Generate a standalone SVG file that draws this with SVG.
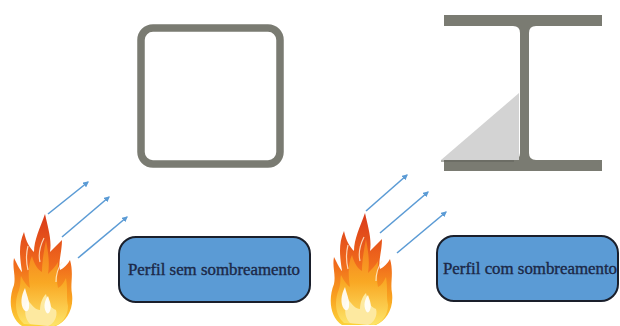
<svg xmlns="http://www.w3.org/2000/svg" width="620" height="326" viewBox="0 0 620 326">
  <style>
    .steel { fill: none; stroke: #7a7b72; stroke-width: 7.5; }
    .beam { fill: #7a7b72; }
    .shade { fill: #d3d3d3; }
    .ray { stroke: #5b9bd5; stroke-width: 1.6; fill: none; marker-end: url(#head); }
    .box { fill: #5b9bd5; stroke: #1a1f2b; stroke-width: 2; }
    .label { font-size: 16px; fill: #1b2847; stroke: #1b2847; stroke-width: 0.35; text-anchor: middle; }
  </style>
  <defs>
    <marker id="head" viewBox="0 0 10 10" refX="8" refY="5" markerWidth="6" markerHeight="6" orient="auto" markerUnits="userSpaceOnUse">
      <path d="M0,0 L10,5 L0,10 Z" fill="#5b9bd5"/>
    </marker>
    <linearGradient id="fireOuter" x1="0" y1="0" x2="0" y2="1">
      <stop offset="0" stop-color="#d9391a"/>
      <stop offset="0.45" stop-color="#f06a1c"/>
      <stop offset="0.75" stop-color="#f9a21f"/>
      <stop offset="1" stop-color="#fcd23a"/>
    </linearGradient>
    <linearGradient id="fireInner" x1="0" y1="0" x2="0" y2="1">
      <stop offset="0" stop-color="#f47a1e"/>
      <stop offset="0.5" stop-color="#f9a824"/>
      <stop offset="1" stop-color="#fde56a"/>
    </linearGradient>
    <g id="flame">
      <path fill="url(#fireOuter)" d="M22,126 C10,118 8,100 14,85 C16,75 12,68 14,58 C18,66 20,70 22,72 C20,58 18,45 24,32 C26,42 30,48 34,52 C34,40 40,28 45,14 C48,28 52,40 50,52 C54,48 58,44 62,40 C62,52 58,62 60,70 C64,68 68,64 70,60 C74,74 70,84 72,94 C74,110 66,122 56,126 Z"/>
      <path fill="url(#fireInner)" d="M24,124 C15,116 14,102 19,90 C21,84 20,80 21,76 C24,82 27,86 30,88 C28,76 28,64 32,56 C34,64 38,70 42,72 C42,62 44,50 46,40 C48,52 50,62 48,74 C52,70 56,66 58,62 C58,72 56,80 58,88 C62,86 64,82 66,78 C68,90 66,98 68,106 C68,116 62,124 54,126 Z"/>
      <path fill="#fde9a0" d="M30,124 C24,118 24,108 28,100 C32,106 36,110 40,110 C40,104 42,98 46,94 C48,102 50,108 56,110 C58,116 54,124 48,126 Z"/>
      <path fill="#ffffff" opacity="0.9" d="M24,110 C20,104 21,96 25,88 C27,96 30,102 29,108 C28,112 26,112 24,110 Z"/>
      <path fill="#ffffff" opacity="0.9" d="M46,112 C43,106 45,100 48,96 C50,102 52,106 50,111 C49,114 47,114 46,112 Z"/>
      <path fill="none" stroke="#fff3dc" stroke-width="1.2" opacity="0.8" d="M40,62 C38,54 40,46 44,38 M28,70 C26,62 26,54 28,46 M56,82 C56,74 58,68 62,62"/>
    </g>
  </defs>

  <!-- hollow square section -->
  <g id="square-tube">
    <rect class="steel" x="141" y="28" width="139" height="136" rx="12"/>
  </g>

  <!-- I section with the shaded corner on one side -->
  <g id="i-beam">
    <path class="beam" d="M444,15 H602 V26 H536 Q529,26 529,33 V153 Q529,160 536,160 H602 V171 H444 V160 H513 Q520,160 520,153 V33 Q520,26 513,26 H444 Z"/>
    <polygon class="shade" points="441,160 519,93 519,160"/>
    <line x1="441" y1="161" x2="514" y2="161" stroke="#5f6058" stroke-width="1.2"/>
  </g>

  <!-- fire sources -->
  <g id="fire-left">
    <use href="#flame" transform="translate(0,200)"/>
  </g>
  <g id="fire-right">
    <use href="#flame" transform="translate(320,199)"/>
  </g>

  <!-- heat rays -->
  <g id="connectors">
    <line class="ray" x1="48" y1="214" x2="88" y2="182"/>
    <line class="ray" x1="62" y1="237" x2="109" y2="197"/>
    <line class="ray" x1="78" y1="258" x2="127" y2="217"/>
    <line class="ray" x1="366" y1="211" x2="407" y2="175"/>
    <line class="ray" x1="380" y1="233" x2="428" y2="192"/>
    <line class="ray" x1="397" y1="253" x2="446" y2="212"/>
  </g>

  <g id="label-left">
    <rect class="box" x="119" y="237" width="191" height="65" rx="17"/>
    <text class="label" font-family="'Liberation Serif', 'Times New Roman', serif" x="214" y="275" textLength="172" lengthAdjust="spacingAndGlyphs">Perfil sem sombreamento</text>
  </g>
  <g id="label-right">
    <rect class="box" x="437" y="236" width="181" height="65" rx="17"/>
    <text class="label" font-family="'Liberation Serif', 'Times New Roman', serif" x="530" y="274" textLength="174" lengthAdjust="spacingAndGlyphs">Perfil com sombreamento</text>
  </g>
</svg>
